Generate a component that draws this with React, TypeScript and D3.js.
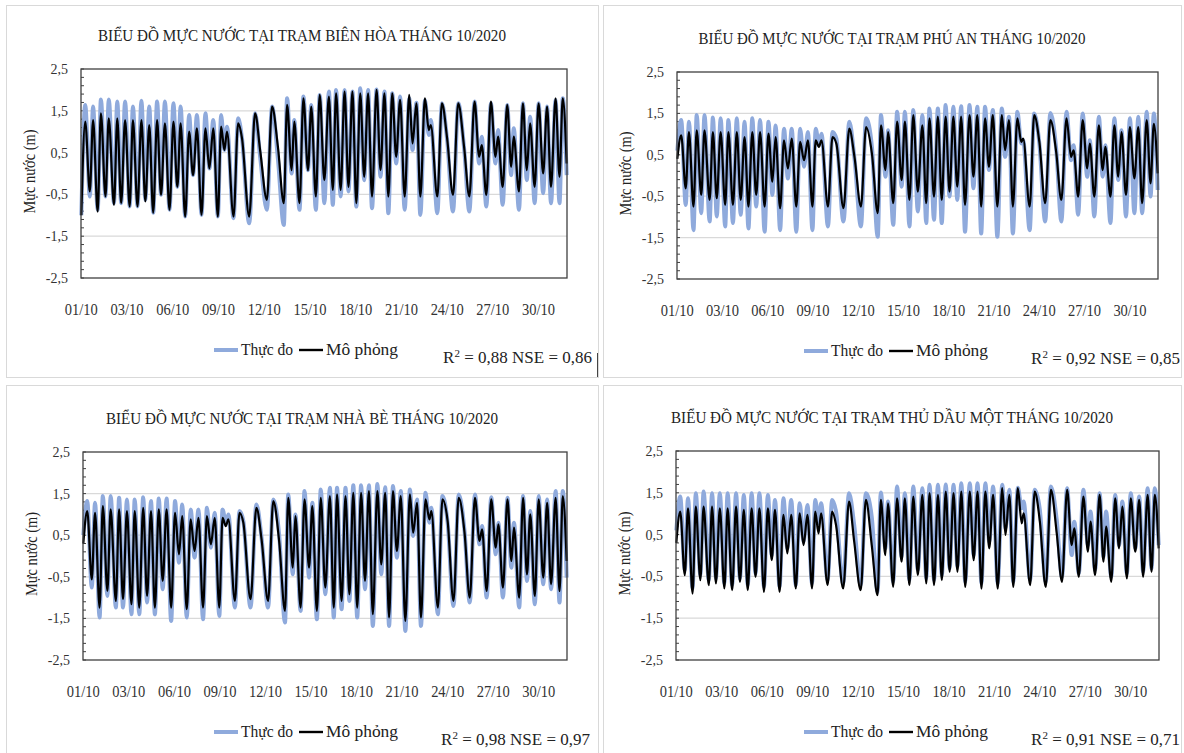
import * as d3 from "d3";
import { useEffect, useRef } from "react";

const WIDTH = 1184;
const HEIGHT = 753;
const BLUE = "#8faadc";
const FONT = "'Liberation Serif', 'Times New Roman', serif";

// hour (from 01/10 00:00) of every high / low water
const extremeHours = [
  0, 6, 13, 18, 25, 30, 37, 42, 50, 55, 61, 67, 74, 79, 86, 92, 98, 104, 110, 116,
  122, 128, 135, 141, 147, 152, 159, 165, 171, 177, 184, 190, 196, 202, 209, 214, 219, 223, 233, 240,
  246, 257, 266, 274, 284, 292, 301, 310, 315, 322, 326, 334, 340, 347, 352, 359, 365, 372, 379, 385,
  390, 397, 403, 409, 415, 421, 427, 433, 439, 445, 452, 458, 464, 470, 476, 482, 488, 495, 502, 507,
  513, 519, 526, 532, 535, 545, 552, 560, 569, 577, 586, 594, 602, 609, 613, 620, 627, 634, 638, 645,
  652, 658, 662, 670, 676, 682, 687, 694, 700, 707, 713, 719, 726, 732, 737, 743,
];

// Biên Hòa
const bienHoaObserved = [
  -1.0, 1.64, -0.55, 1.6, -0.87, 1.77, -0.55, 1.77, -0.71, 1.72, -0.71, 1.72, -0.79, 1.6, -0.79, 1.74, -0.63, 1.6, -0.94, 1.72,
  -0.51, 1.72, -0.87, 1.68, -0.32, 1.6, -1.03, 1.4, -0.04, 1.4, -0.99, 1.44, 0.12, 1.28, -1.03, 1.4, 0.56, 1.12, -1.07, 1.32,
  0.84, -1.19, 1.44, 0.36, -0.87, 1.6, 0.34, -1.23, 1.8, 0.0, 1.28, -0.87, 1.84, 0.08, 1.64, -0.87, 1.88, -0.71, 1.96, -0.75,
  2.0, -0.55, 2.0, -0.43, 1.96, -0.79, 2.04, -0.16, 2.0, -0.83, 2.01, -0.08, 1.96, -0.95, 1.92, 0.24, 1.84, -0.87, 1.8, 0.56,
  1.69, -0.99, 1.76, 0.92, 1.28, -0.95, 1.68, 0.8, -0.91, 1.68, 0.6, -0.91, 1.72, 0.24, 0.88, -0.79, 1.68, 0.24, 1.04, -0.75,
  1.64, -0.04, 1.08, -0.87, 1.68, -0.16, 1.36, -0.71, 1.68, -0.47, 1.6, -0.71, 1.76, -0.71, 1.8, -0.04,
];
const bienHoaSimulated = [
  -1.0, 1.24, -0.43, 1.28, -0.91, 1.44, -0.55, 1.32, -0.75, 1.32, -0.71, 1.28, -0.79, 1.28, -0.79, 1.28, -0.67, 1.16, -0.94, 1.28,
  -0.51, 1.2, -0.87, 1.24, -0.32, 1.2, -1.03, 1.0, -0.04, 1.08, -0.99, 1.08, 0.12, 1.08, -1.03, 1.12, 0.56, 1.0, -1.03, 1.2,
  0.84, -1.03, 1.44, 0.52, -0.63, 1.6, 0.63, -0.71, 1.64, 0.08, 1.24, -0.71, 1.8, 0.08, 1.6, -0.55, 1.88, -0.16, 1.84, -0.39,
  1.92, -0.39, 1.96, -0.32, 1.96, -0.71, 1.92, -0.08, 1.92, -0.55, 2.0, 0.08, 1.92, -0.55, 1.92, 0.4, 1.76, -0.55, 1.88, 0.72,
  1.68, -0.55, 1.8, 1.04, 1.16, -0.55, 1.68, 0.84, -0.51, 1.68, 0.63, -0.55, 1.72, 0.4, 0.68, -0.51, 1.72, 0.4, 0.88, -0.32,
  1.64, 0.16, 0.88, -0.43, 1.68, 0.08, 1.2, -0.32, 1.68, 0.0, 1.6, -0.32, 1.8, -0.08, 1.8, 0.24,
];

// Phú An
const phuAnObserved = [
  0.6, 1.34, -0.71, 1.3, -1.32, 1.46, -0.91, 1.46, -1.11, 1.4, -0.99, 1.38, -1.23, 1.34, -1.15, 1.38, -0.95, 1.3, -1.28, 1.38,
  -0.75, 1.34, -1.36, 1.3, -0.47, 1.21, -1.32, 1.13, -0.07, 1.13, -1.36, 1.13, 0.21, 1.05, -1.32, 1.13, 0.77, 1.01, -1.23, 1.05,
  0.89, -1.11, 1.3, 0.41, -1.23, 1.38, 0.69, -1.48, 1.46, -0.03, 1.09, -1.19, 1.54, -0.27, 1.54, -1.23, 1.58, -0.87, 1.46, -1.15,
  1.62, -1.07, 1.62, -1.15, 1.7, -0.51, 1.66, -0.59, 1.67, -1.36, 1.7, -0.31, 1.66, -1.4, 1.66, 0.13, 1.58, -1.48, 1.62, 0.45,
  1.42, -1.4, 1.54, 0.77, 0.85, -1.32, 1.5, 0.77, -1.11, 1.51, 0.65, -1.11, 1.54, 0.37, 0.73, -0.95, 1.5, -0.03, 0.85, -0.99,
  1.42, -0.03, 0.73, -1.15, 1.38, -0.11, 1.09, -0.99, 1.38, -0.91, 1.42, -0.91, 1.54, -0.51, 1.5, -0.35,
];
const phuAnSimulated = [
  0.4, 0.97, -0.31, 1.05, -0.75, 1.09, -0.47, 1.09, -0.59, 1.05, -0.55, 1.05, -0.71, 1.05, -0.71, 1.05, -0.59, 0.93, -0.75, 1.05,
  -0.47, 1.05, -0.75, 1.01, -0.15, 0.93, -0.79, 0.85, 0.17, 0.89, -0.75, 0.81, 0.37, 0.85, -0.75, 0.85, 0.69, 0.85, -0.75, 0.93,
  0.77, -0.79, 1.13, 0.45, -0.75, 1.17, 0.53, -0.91, 1.21, 0.13, 1.05, -0.67, 1.3, -0.11, 1.3, -0.59, 1.46, -0.39, 1.21, -0.67,
  1.38, -0.51, 1.42, -0.59, 1.42, -0.39, 1.42, -0.27, 1.42, -0.71, 1.46, -0.03, 1.46, -0.75, 1.38, 0.21, 1.46, -0.75, 1.46, 0.61,
  1.34, -0.75, 1.38, 0.81, 0.89, -0.75, 1.46, 0.81, -0.67, 1.34, 0.57, -0.59, 1.38, 0.45, 0.61, -0.51, 1.34, 0.17, 0.77, -0.51,
  1.21, 0.13, 0.69, -0.51, 1.21, -0.03, 1.05, -0.47, 1.17, -0.07, 1.17, -0.67, 1.34, -0.19, 1.25, 0.05,
];

// Nhà Bè
const nhaBeObserved = [
  0.5, 1.32, -0.76, 1.28, -1.48, 1.44, -0.96, 1.44, -1.24, 1.4, -1.24, 1.36, -1.4, 1.36, -1.4, 1.41, -1.12, 1.32, -1.4, 1.38,
  -0.8, 1.38, -1.56, 1.32, -0.16, 1.24, -1.48, 1.12, -0.04, 1.12, -1.52, 1.16, 0.2, 1.04, -1.44, 1.12, 0.8, 1.0, -1.24, 1.08,
  0.84, -1.24, 1.24, 0.44, -1.24, 1.36, 0.52, -1.6, 1.48, -0.44, 1.0, -1.32, 1.56, -0.52, 1.28, -1.52, 1.6, -0.92, 1.64, -1.48,
  1.64, -1.28, 1.64, -1.08, 1.7, -1.48, 1.7, -0.8, 1.7, -1.68, 1.73, -0.44, 1.65, -1.68, 1.68, -0.04, 1.56, -1.8, 1.6, 0.48,
  1.36, -1.68, 1.52, 0.8, 1.16, -1.4, 1.44, 0.8, -1.2, 1.48, 0.6, -1.12, 1.48, 0.28, 0.72, -1.0, 1.41, 0.04, 0.8, -1.0,
  1.4, -0.28, 0.8, -1.24, 1.44, -0.6, 1.08, -1.16, 1.44, -0.68, 1.36, -0.8, 1.56, -1.12, 1.56, -0.52,
];
const nhaBeSimulated = [
  0.3, 1.08, -0.56, 1.04, -1.24, 1.2, -0.84, 1.12, -1.08, 1.12, -1.04, 1.08, -1.16, 1.08, -1.24, 1.16, -0.96, 1.08, -1.24, 1.12,
  -0.6, 1.12, -1.24, 1.04, 0.04, 0.96, -1.28, 0.88, 0.12, 0.92, -1.24, 0.96, 0.28, 0.92, -1.24, 0.92, 0.72, 0.88, -1.08, 1.04,
  0.8, -1.04, 1.16, 0.4, -1.08, 1.32, 0.36, -1.32, 1.4, -0.28, 0.96, -1.24, 1.36, -0.28, 1.2, -1.32, 1.4, -0.76, 1.44, -1.24,
  1.48, -1.08, 1.44, -0.92, 1.52, -1.24, 1.52, -0.6, 1.56, -1.4, 1.56, -0.2, 1.52, -1.48, 1.56, 0.12, 1.44, -1.56, 1.48, 0.56,
  1.28, -1.48, 1.36, 0.88, 1.08, -1.24, 1.36, 0.84, -1.08, 1.4, 0.56, -1.0, 1.4, 0.36, 0.64, -0.84, 1.36, 0.2, 0.76, -0.76,
  1.36, -0.12, 0.68, -1.0, 1.4, -0.44, 1.0, -0.96, 1.36, -0.52, 1.28, -0.68, 1.4, -0.84, 1.44, -0.12,
];

// Thủ Dầu Một
const thuDauMotObserved = [
  0.6, 1.41, -0.35, 1.37, -0.79, 1.49, -0.47, 1.53, -0.59, 1.49, -0.55, 1.49, -0.67, 1.49, -0.71, 1.49, -0.55, 1.45, -0.71, 1.49,
  -0.43, 1.49, -0.75, 1.45, 0.01, 1.33, -0.75, 1.37, 0.17, 1.33, -0.71, 1.25, 0.33, 1.21, -0.67, 1.33, 0.77, 1.25, -0.59, 1.33,
  1.05, -0.67, 1.49, 0.73, -0.71, 1.49, 0.93, -0.87, 1.51, 0.17, 1.29, -0.63, 1.65, -0.03, 1.49, -0.59, 1.65, -0.35, 1.61, -0.55,
  1.69, -0.59, 1.69, -0.47, 1.7, -0.31, 1.69, -0.27, 1.73, -0.63, 1.73, 0.01, 1.73, -0.67, 1.73, 0.33, 1.65, -0.67, 1.69, 0.65,
  1.57, -0.63, 1.62, 1.13, 1.29, -0.59, 1.57, 1.09, -0.63, 1.65, 0.85, -0.51, 1.61, 0.01, 0.81, -0.43, 1.57, 0.25, 1.05, -0.35,
  1.49, -0.03, 1.05, -0.51, 1.45, 0.25, 1.29, -0.43, 1.49, 0.17, 1.41, -0.39, 1.61, -0.31, 1.61, 0.25,
];
const thuDauMotSimulated = [
  0.3, 1.05, -0.47, 1.13, -0.91, 1.17, -0.59, 1.17, -0.71, 1.17, -0.67, 1.13, -0.79, 1.13, -0.83, 1.17, -0.63, 1.09, -0.83, 1.13,
  -0.51, 1.13, -0.87, 1.13, -0.11, 1.09, -0.87, 0.97, 0.05, 0.97, -0.79, 1.01, 0.25, 0.97, -0.79, 1.05, 0.53, 1.01, -0.71, 1.05,
  0.73, -0.79, 1.29, 0.33, -0.83, 1.33, 0.25, -0.95, 1.33, 0.01, 1.25, -0.75, 1.37, -0.15, 1.37, -0.71, 1.41, -0.47, 1.45, -0.67,
  1.49, -0.71, 1.45, -0.59, 1.53, -0.39, 1.49, -0.39, 1.53, -0.75, 1.53, -0.11, 1.53, -0.79, 1.53, 0.17, 1.45, -0.79, 1.61, 0.49,
  1.45, -0.75, 1.61, 0.77, 1.01, -0.71, 1.53, 0.81, -0.75, 1.57, 0.53, -0.63, 1.57, 0.25, 0.65, -0.51, 1.41, 0.09, 0.81, -0.47,
  1.45, -0.15, 0.69, -0.63, 1.37, 0.17, 1.17, -0.55, 1.37, 0.09, 1.33, -0.51, 1.45, -0.39, 1.45, 0.17,
];

const stations = ["BIÊN HÒA", "PHÚ AN", "NHÀ BÈ", "THỦ DẦU MỘT"];
const r2Values = ["0,88", "0,92", "0,98", "0,91"];
const nseValues = ["0,86", "0,85", "0,97", "0,71"];
const yTicks = [2.5, 1.5, 0.5, -0.5, -1.5, -2.5];
const xTickLabels = ["01/10", "03/10", "06/10", "09/10", "12/10", "15/10", "18/10", "21/10", "24/10", "27/10", "30/10"];
const seriesNames = ["Thực đo", "Mô phỏng"];
const HOURS = 744;
const LABEL_EVERY = 70; // one date label every 70 hourly points

const observed = [bienHoaObserved, phuAnObserved, nhaBeObserved, thuDauMotObserved];
const simulated = [bienHoaSimulated, phuAnSimulated, nhaBeSimulated, thuDauMotSimulated];

// frame [x, y, w, h], plot [left, top, right, bottom]
const layouts = [
  { frame: [6, 5, 592, 372], plot: [81, 69, 567, 278], titleLen: 408, statsX: 592 },
  { frame: [603, 5, 578, 372], plot: [677, 72, 1158, 279], titleLen: 387, statsX: 1180 },
  { frame: [6, 385, 592, 372], plot: [83, 452, 567, 660], titleLen: 392, statsX: 590 },
  { frame: [603, 385, 578, 372], plot: [676, 451, 1159, 660], titleLen: 442, statsX: 1180 },
];

const fmt = d3
  .formatLocale({ decimal: ",", thousands: ".", grouping: [3], currency: ["", ""], minus: "-" })
  .format(".1f");

const drawPanel = (svg, i) => {
  const { frame, plot, titleLen, statsX } = layouts[i];
  const [fx, fy, fw, fh] = frame;
  const [x0, y0, x1, y1] = plot;
  const cx = fx + fw / 2;
  const g = svg.append("g");

  g.append("rect")
    .attr("x", fx + 0.5)
    .attr("y", fy + 0.5)
    .attr("width", fw)
    .attr("height", fh)
    .attr("fill", "white")
    .attr("stroke", "#d9d9d9");

  const xScale = d3.scaleLinear().domain([-0.5, HOURS - 0.5]).range([x0, x1]);
  const yScale = d3.scaleLinear().domain([-2.5, 2.5]).range([y1, y0]);

  // grid lines
  g.selectAll(".grid")
    .data(yTicks.slice(1, -1))
    .join("line")
    .attr("class", "grid")
    .attr("x1", x0)
    .attr("x2", x1)
    .attr("y1", (d) => yScale(d))
    .attr("y2", (d) => yScale(d))
    .attr("stroke", "#d9d9d9")
    .attr("stroke-width", 1.2);

  // minor ticks, inside
  g.selectAll(".minor")
    .data(d3.range(26).map((k) => 2.5 - 0.2 * k))
    .join("line")
    .attr("class", "minor")
    .attr("x1", x0)
    .attr("x2", x0 + 3)
    .attr("y1", (d) => yScale(d))
    .attr("y2", (d) => yScale(d))
    .attr("stroke", "#404040");

  const line = d3
    .line()
    .x((d) => xScale(d[0]))
    .y((d) => yScale(d[1]))
    .curve(d3.curveMonotoneX);

  const points = (vals) =>
    extremeHours.filter((_, k) => vals[k] !== undefined).map((h, k) => [h, vals[k]]);

  g.append("path")
    .attr("d", line(points(observed[i])))
    .attr("fill", "none")
    .attr("stroke", BLUE)
    .attr("stroke-width", 4)
    .attr("stroke-linejoin", "round");

  g.append("path")
    .attr("d", line(points(simulated[i])))
    .attr("fill", "none")
    .attr("stroke", "#000")
    .attr("stroke-width", 2.2)
    .attr("stroke-linejoin", "round");

  // plot border
  g.append("rect")
    .attr("x", x0)
    .attr("y", y0)
    .attr("width", x1 - x0)
    .attr("height", y1 - y0)
    .attr("fill", "none")
    .attr("stroke", "#404040")
    .attr("stroke-width", 1.3);

  // y tick labels
  g.selectAll(".ytick")
    .data(yTicks)
    .join("text")
    .attr("class", "ytick")
    .attr("x", x0 - 13)
    .attr("y", (d) => yScale(d) + 5)
    .attr("text-anchor", "end")
    .style("font-size", "14px")
    .attr("fill", "#333")
    .text((d) => fmt(d));

  // x tick labels
  g.selectAll(".xtick")
    .data(xTickLabels)
    .join("text")
    .attr("class", "xtick")
    .attr("x", (_, k) => xScale(k * LABEL_EVERY))
    .attr("y", y1 + 37)
    .attr("text-anchor", "middle")
    .style("font-size", "16px")
    .attr("textLength", 33)
    .attr("lengthAdjust", "spacingAndGlyphs")
    .attr("fill", "#333")
    .text((d) => d);

  // y axis title
  g.append("text")
    .attr("transform", `translate(${x0 - 46}, ${(y0 + y1) / 2 - 2}) rotate(-90)`)
    .attr("text-anchor", "middle")
    .style("font-size", "16px")
    .attr("textLength", 84)
    .attr("lengthAdjust", "spacingAndGlyphs")
    .attr("fill", "#222")
    .text("Mực nước (m)");

  // title
  g.append("text")
    .attr("x", cx)
    .attr("y", y0 - 28)
    .attr("text-anchor", "middle")
    .style("font-size", "17px")
    .attr("fill", "#222")
    .attr("textLength", titleLen)
    .attr("lengthAdjust", "spacingAndGlyphs")
    .text(`BIỂU ĐỒ MỰC NƯỚC TẠI TRẠM ${stations[i]} THÁNG 10/2020`);

  // legend
  const lx = cx - 88;
  const ly = y1 + 72;
  const legend = g.append("g").attr("transform", `translate(${lx}, ${ly})`);
  [
    { name: seriesNames[0], color: BLUE, w: 4, dx: 0, len: 52 },
    { name: seriesNames[1], color: "#000", w: 2.4, dx: 85, len: 72 },
  ].forEach((s) => {
    legend
      .append("line")
      .attr("x1", s.dx)
      .attr("x2", s.dx + 24)
      .attr("stroke", s.color)
      .attr("stroke-width", s.w);
    legend
      .append("text")
      .attr("x", s.dx + 27)
      .attr("y", 5)
      .style("font-size", "17px")
      .attr("textLength", s.len)
      .attr("lengthAdjust", "spacingAndGlyphs")
      .attr("fill", "#222")
      .text(s.name);
  });

  // R2 / NSE
  const stats = g
    .append("text")
    .attr("x", statsX)
    .attr("y", y1 + 85)
    .attr("text-anchor", "end")
    .style("font-size", "17px")
    .attr("fill", "#222");
  stats.append("tspan").text("R");
  stats.append("tspan").attr("dy", -6).style("font-size", "11px").text("2");
  stats.append("tspan").attr("dy", 6).text(` = ${r2Values[i]} NSE = ${nseValues[i]}`);
};

const App = () => {
  const svgRef = useRef(null);

  useEffect(() => {
    const svg = d3.select(svgRef.current);
    svg.selectAll("*").remove();
    svg.append("rect").attr("width", WIDTH).attr("height", HEIGHT).attr("fill", "white");
    layouts.forEach((_, i) => drawPanel(svg, i));
    // small dark edge right of the first chart
    svg
      .append("line")
      .attr("x1", 597.5)
      .attr("x2", 597.5)
      .attr("y1", 353)
      .attr("y2", 377)
      .attr("stroke", "#444");
  }, []);

  return (
    <svg
      ref={svgRef}
      width={WIDTH}
      height={HEIGHT}
      style={{ position: "absolute", left: 0, top: 0, display: "block", fontFamily: FONT }}
    />
  );
};

export default App;
